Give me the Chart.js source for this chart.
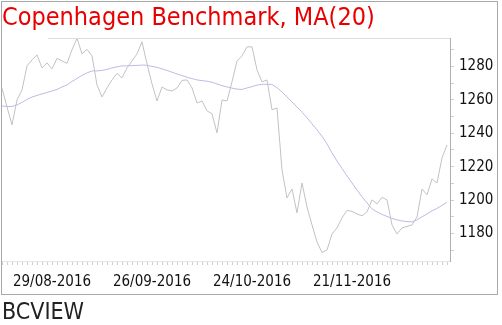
<!DOCTYPE html>
<html>
<head>
<meta charset="utf-8">
<script src="https://cdn.jsdelivr.net/npm/chart.js@4/dist/chart.umd.min.js"></script>
<style>
  body { margin: 0; background: #fff; }
  #wrap { position: relative; width: 502px; height: 325px; }
  #frame { position: absolute; left: 1px; top: 1px; width: 495px; height: 292px; border: 1px solid #a8a8a8; pointer-events: none; }
  #src { position: absolute; left: 2px; top: 299px; font: 23px 'DejaVu Sans Condensed', 'DejaVu Sans', sans-serif; line-height: 25px; color: #222; }
</style>
</head>
<body>
<div id="wrap">
  <canvas id="chart" width="502" height="325"></canvas>
  <div id="frame"></div>
  <div id="src">BCVIEW</div>
</div>
<script>
const dates = [
  '15/08-2016', '16/08-2016', '17/08-2016', '18/08-2016', '19/08-2016',
  '22/08-2016', '23/08-2016', '24/08-2016', '25/08-2016', '26/08-2016',
  '29/08-2016', '30/08-2016', '31/08-2016', '01/09-2016', '02/09-2016',
  '05/09-2016', '06/09-2016', '07/09-2016', '08/09-2016', '09/09-2016',
  '12/09-2016', '13/09-2016', '14/09-2016', '15/09-2016', '16/09-2016',
  '19/09-2016', '20/09-2016', '21/09-2016', '22/09-2016', '23/09-2016',
  '26/09-2016', '27/09-2016', '28/09-2016', '29/09-2016', '30/09-2016',
  '03/10-2016', '04/10-2016', '05/10-2016', '06/10-2016', '07/10-2016',
  '10/10-2016', '11/10-2016', '12/10-2016', '13/10-2016', '14/10-2016',
  '17/10-2016', '18/10-2016', '19/10-2016', '20/10-2016', '21/10-2016',
  '24/10-2016', '25/10-2016', '26/10-2016', '27/10-2016', '28/10-2016',
  '31/10-2016', '01/11-2016', '02/11-2016', '03/11-2016', '04/11-2016',
  '07/11-2016', '08/11-2016', '09/11-2016', '10/11-2016', '11/11-2016',
  '14/11-2016', '15/11-2016', '16/11-2016', '17/11-2016', '18/11-2016',
  '21/11-2016', '22/11-2016', '23/11-2016', '24/11-2016', '25/11-2016',
  '28/11-2016', '29/11-2016', '30/11-2016', '01/12-2016', '02/12-2016',
  '05/12-2016', '06/12-2016', '07/12-2016', '08/12-2016', '09/12-2016',
  '12/12-2016', '13/12-2016', '14/12-2016', '15/12-2016', '16/12-2016'
];
const tickDates = ['29/08-2016', '26/09-2016', '24/10-2016', '21/11-2016'];

const benchmark = [
  1266.9, 1255.7, 1245.0, 1259.9, 1265.9, 1280.3, 1283.9, 1286.9, 1279.1, 1282.1,
  1278.5, 1284.8, 1283.3, 1281.8, 1289.9, 1296.8, 1287.5, 1290.2, 1286.3, 1268.9,
  1261.7, 1267.1, 1271.9, 1275.8, 1273.1, 1279.1, 1283.3, 1287.5, 1294.7, 1281.5,
  1269.5, 1259.3, 1267.7, 1265.9, 1265.3, 1267.1, 1271.6, 1271.9, 1267.1, 1258.1,
  1259.3, 1253.4, 1251.6, 1240.2, 1259.9, 1259.3, 1270.7, 1283.3, 1286.3, 1291.7,
  1291.7, 1277.9, 1270.7, 1271.9, 1254.0, 1255.1, 1218.0, 1201.3, 1206.6, 1192.3,
  1210.2, 1195.9, 1185.1, 1174.9, 1168.6, 1170.1, 1179.7, 1183.3, 1189.3, 1193.8,
  1193.2, 1191.7, 1190.5, 1192.9, 1200.1, 1197.7, 1201.6, 1200.1, 1185.1, 1179.7,
  1183.3, 1184.2, 1185.1, 1189.9, 1206.6, 1203.1, 1212.6, 1210.2, 1225.2, 1233.0
];

const ma20 = [
  1256.3, 1256.0, 1256.0, 1257.0, 1258.4, 1260.2, 1261.7, 1262.6, 1263.5, 1264.4,
  1265.3, 1266.2, 1267.7, 1268.9, 1271.0, 1272.8, 1274.6, 1276.1, 1277.3, 1277.3,
  1277.6, 1278.2, 1279.1, 1279.7, 1280.3, 1280.3, 1280.5, 1280.6, 1280.8, 1280.7,
  1280.0, 1279.4, 1278.5, 1277.6, 1276.5, 1275.5, 1274.5, 1273.5, 1272.7, 1271.9,
  1271.5, 1271.1, 1270.5, 1269.5, 1268.5, 1267.7, 1267.0, 1266.4, 1266.2, 1267.1,
  1267.9, 1268.8, 1269.3, 1269.3, 1269.2, 1267.3, 1264.7, 1261.7, 1258.7, 1255.7,
  1252.6, 1249.2, 1245.6, 1242.0, 1238.1, 1233.6, 1228.2, 1223.4, 1218.9, 1214.4,
  1210.2, 1206.0, 1201.9, 1198.3, 1194.7, 1192.9, 1191.4, 1190.2, 1189.0, 1188.1,
  1187.5, 1187.1, 1186.9, 1188.1, 1189.9, 1191.7, 1193.5, 1195.0, 1196.8, 1198.6
];

const yTicks = [1170, 1180, 1190, 1200, 1210, 1220, 1230, 1240, 1250, 1260, 1270, 1280, 1290];

const fontFamily = "'DejaVu Sans Condensed', 'DejaVu Sans', sans-serif";

// faint top border of the plot
const topLine = {
  id: 'topLine',
  afterDraw(chart) {
    const a = chart.chartArea;
    const ctx = chart.ctx;
    ctx.save();
    ctx.strokeStyle = '#e2dae2';
    ctx.lineWidth = 1;
    ctx.beginPath();
    ctx.moveTo(a.left + 46, a.top + 0.5);
    ctx.lineTo(a.right, a.top + 0.5);
    ctx.stroke();
    ctx.restore();
  }
};

document.addEventListener('DOMContentLoaded', function() {
  const toPoints = arr => arr.map((v, i) => ({ x: i, y: v }));

  new Chart(document.getElementById('chart').getContext('2d'), {
    type: 'line',
    data: {
      datasets: [{
        data: toPoints(benchmark),
        borderColor: '#c2c2c2',
        borderWidth: 1,
        pointRadius: 0,
        tension: 0
      }, {
        data: toPoints(ma20),
        borderColor: '#bcbce4',
        borderWidth: 1,
        pointRadius: 0,
        tension: 0
      }]
    },
    options: {
      responsive: false,
      animation: false,
      events: [],
      layout: { padding: { left: 2, right: 0, top: 0, bottom: 0 } },
      plugins: {
        legend: { display: false },
        tooltip: { enabled: false },
        title: {
          display: true,
          text: 'Copenhagen Benchmark, MA(20)',
          align: 'start',
          color: 'rgb(232, 0, 0)',
          font: { family: fontFamily, size: 25, weight: 'normal', lineHeight: 1.2 },
          padding: { top: 3, bottom: 5 }
        }
      },
      scales: {
        x: {
          type: 'linear',
          min: 0,
          max: 89.6,
          afterBuildTicks: axis => { axis.ticks = dates.map((d, i) => ({ value: i })); },
          afterFit: axis => { axis.height = 64; },
          ticks: {
            autoSkip: false,
            maxRotation: 0,
            padding: 0,
            color: '#111',
            font: { family: fontFamily, size: 15, lineHeight: 2.3 },
            callback: v => tickDates.includes(dates[v]) ? dates[v] : ''
          },
          grid: { drawOnChartArea: false, tickLength: 4, color: '#cfcfcf' },
          border: { color: '#e6e6e6' }
        },
        y: {
          position: 'right',
          min: 1163.5,
          max: 1297,
          afterBuildTicks: axis => { axis.ticks = yTicks.map(v => ({ value: v })); },
          afterFit: axis => { axis.width = 52; },
          ticks: {
            autoSkip: false,
            padding: 5,
            color: '#111',
            font: { family: fontFamily, size: 15 },
            callback: v => v % 20 === 0 ? String(v) : ''
          },
          grid: { drawOnChartArea: false, tickLength: 4, color: '#cfcfcf' },
          border: { color: '#b0b0b0' }
        }
      }
    },
    plugins: [topLine]
  });
});
</script>
</body>
</html>
